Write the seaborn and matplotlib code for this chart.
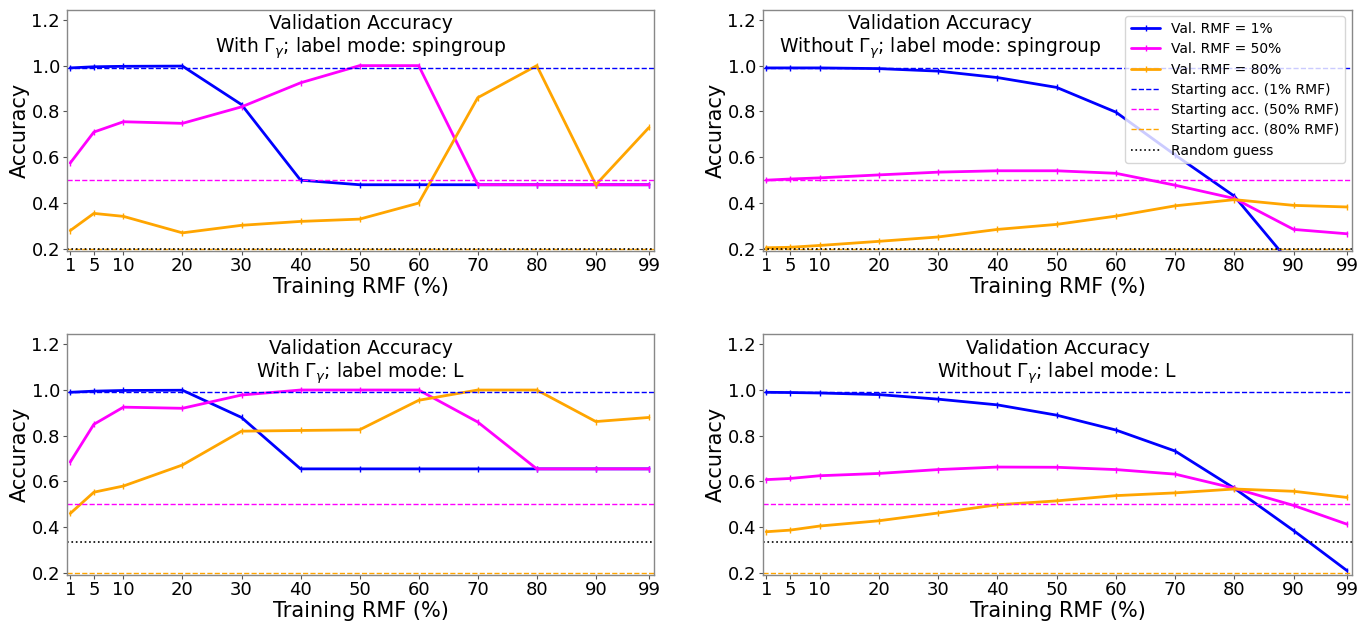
import numpy as np
import pandas as pd
import matplotlib
matplotlib.use("Agg")
import matplotlib.pyplot as plt
from matplotlib.lines import Line2D
import seaborn as sns

rmf = [1, 5, 10, 20, 30, 40, 50, 60, 70, 80, 90, 99]
xticks = [1, 5, 10, 20, 30, 40, 50, 60, 70, 80, 90, 99]
series_names = ["Val. RMF = 1%", "Val. RMF = 50%", "Val. RMF = 80%"]

# Panel A: With Gamma, spingroup
a_1 = [0.99, 0.995, 0.997, 0.998, 0.83, 0.50, 0.48, 0.48, 0.48, 0.48, 0.48, 0.48]
a_50 = [0.575, 0.71, 0.755, 0.748, 0.82, 0.925, 1.0, 1.0, 0.48, 0.48, 0.48, 0.48]
a_80 = [0.28, 0.355, 0.342, 0.27, 0.303, 0.32, 0.33, 0.40, 0.86, 1.0, 0.48, 0.73]
# Panel B: Without Gamma, spingroup
b_1 = [0.99, 0.99, 0.99, 0.987, 0.976, 0.948, 0.905, 0.797, 0.61, 0.43, 0.12, 0.05]
b_50 = [0.50, 0.505, 0.51, 0.523, 0.535, 0.541, 0.541, 0.53, 0.478, 0.42, 0.285, 0.266]
b_80 = [0.205, 0.207, 0.215, 0.233, 0.252, 0.285, 0.307, 0.343, 0.388, 0.415, 0.39, 0.383]
# Panel C: With Gamma, L
c_1 = [0.99, 0.995, 0.998, 0.999, 0.88, 0.655, 0.655, 0.655, 0.655, 0.655, 0.655, 0.655]
c_50 = [0.685, 0.85, 0.925, 0.92, 0.978, 1.0, 1.0, 1.0, 0.86, 0.655, 0.655, 0.655]
c_80 = [0.46, 0.553, 0.58, 0.672, 0.82, 0.823, 0.826, 0.955, 1.0, 1.0, 0.862, 0.88]
# Panel D: Without Gamma, L
d_1 = [0.99, 0.989, 0.987, 0.98, 0.96, 0.935, 0.89, 0.825, 0.733, 0.57, 0.385, 0.21]
d_50 = [0.608, 0.613, 0.625, 0.635, 0.652, 0.663, 0.662, 0.652, 0.632, 0.57, 0.495, 0.413]
d_80 = [0.38, 0.387, 0.405, 0.428, 0.462, 0.498, 0.515, 0.538, 0.55, 0.567, 0.557, 0.53]

start_acc = [0.99, 0.50, 0.20]
random_spingroup = 0.2
random_L = 1 / 3

titles = [
    "Validation Accuracy\nWith $\\Gamma_\\gamma$; label mode: spingroup",
    "Validation Accuracy\nWithout $\\Gamma_\\gamma$; label mode: spingroup",
    "Validation Accuracy\nWith $\\Gamma_\\gamma$; label mode: L",
    "Validation Accuracy\nWithout $\\Gamma_\\gamma$; label mode: L",
]
panels = [(a_1, a_50, a_80), (b_1, b_50, b_80), (c_1, c_50, c_80), (d_1, d_50, d_80)]
randoms = [random_spingroup, random_spingroup, random_L, random_L]
colors = ["blue", "magenta", "orange"]
start_labels = ["Starting acc. (1% RMF)", "Starting acc. (50% RMF)", "Starting acc. (80% RMF)"]

sns.set_style("white")
plt.rcParams["font.family"] = ["DejaVu Sans"]
plt.rcParams["text.color"] = "black"
plt.rcParams["axes.labelcolor"] = "black"
plt.rcParams["xtick.color"] = "black"
plt.rcParams["ytick.color"] = "black"

fig = plt.figure(figsize=(13.71, 6.21), dpi=100)
W, H = 1371, 621
boxes = [(67, 9.5, 654, 250.5), (763, 9.5, 1352, 250.5),
         (67, 334, 654, 574.5), (763, 334, 1352, 574.5)]
title_x = [0.5, 0.30, 0.5, 0.5]

for i, (box, vals) in enumerate(zip(boxes, panels)):
    l, t, r, b = box
    ax = fig.add_axes([l / W, 1 - b / H, (r - l) / W, (b - t) / H])
    df = pd.DataFrame({
        "rmf": rmf * 3,
        "acc": vals[0] + vals[1] + vals[2],
        "series": sum([[n] * len(rmf) for n in series_names], []),
    })
    sns.lineplot(data=df, x="rmf", y="acc", hue="series", palette=colors,
                 hue_order=series_names, linewidth=2, marker="|", markersize=4,
                 markeredgewidth=1, ax=ax, legend=False)
    for ln in ax.lines:
        ln.set_markeredgecolor(ln.get_color())
    for c, s, lab in zip(colors, start_acc, start_labels):
        ax.axhline(s, color=c, linestyle="--", linewidth=1, label=lab)
    ax.axhline(randoms[i], color="black", linestyle=":", linewidth=1.2, label="Random guess")
    ax.set_xlim(0.45, 99.85)
    ax.set_ylim(0.193, 1.245)
    ax.set_xticks(xticks)
    ax.set_xticklabels([str(v) for v in xticks])
    ax.set_yticks([0.2, 0.4, 0.6, 0.8, 1.0, 1.2])
    ax.set_yticklabels(["0.2", "0.4", "0.6", "0.8", "1.0", "1.2"])
    ax.tick_params(labelsize=13, length=3, pad=2, direction="out", bottom=True, left=True,
                   color="#555555")
    ax.set_xlabel("Training RMF (%)", fontsize=15, labelpad=1)
    ax.set_ylabel("Accuracy", fontsize=15, labelpad=1)
    for sp in ax.spines.values():
        sp.set_color("#888888")
        sp.set_linewidth(1)
    ax.text(title_x[i], 0.98, titles[i], transform=ax.transAxes, ha="center", va="top",
            fontsize=13.5, linespacing=1.15)
    if i == 1:
        handles = [Line2D([], [], color=c, linewidth=2, marker="|", markersize=4) for c in colors]
        handles += [Line2D([], [], color=c, linestyle="--", linewidth=1) for c in colors]
        handles += [Line2D([], [], color="black", linestyle=":", linewidth=1.2)]
        labels = series_names + start_labels + ["Random guess"]
        ax.legend(handles, labels, loc="upper right", fontsize=10, frameon=True,
                  borderaxespad=0.5, labelspacing=0.45, handlelength=2.1)

fig.savefig("out.png", dpi=100)
